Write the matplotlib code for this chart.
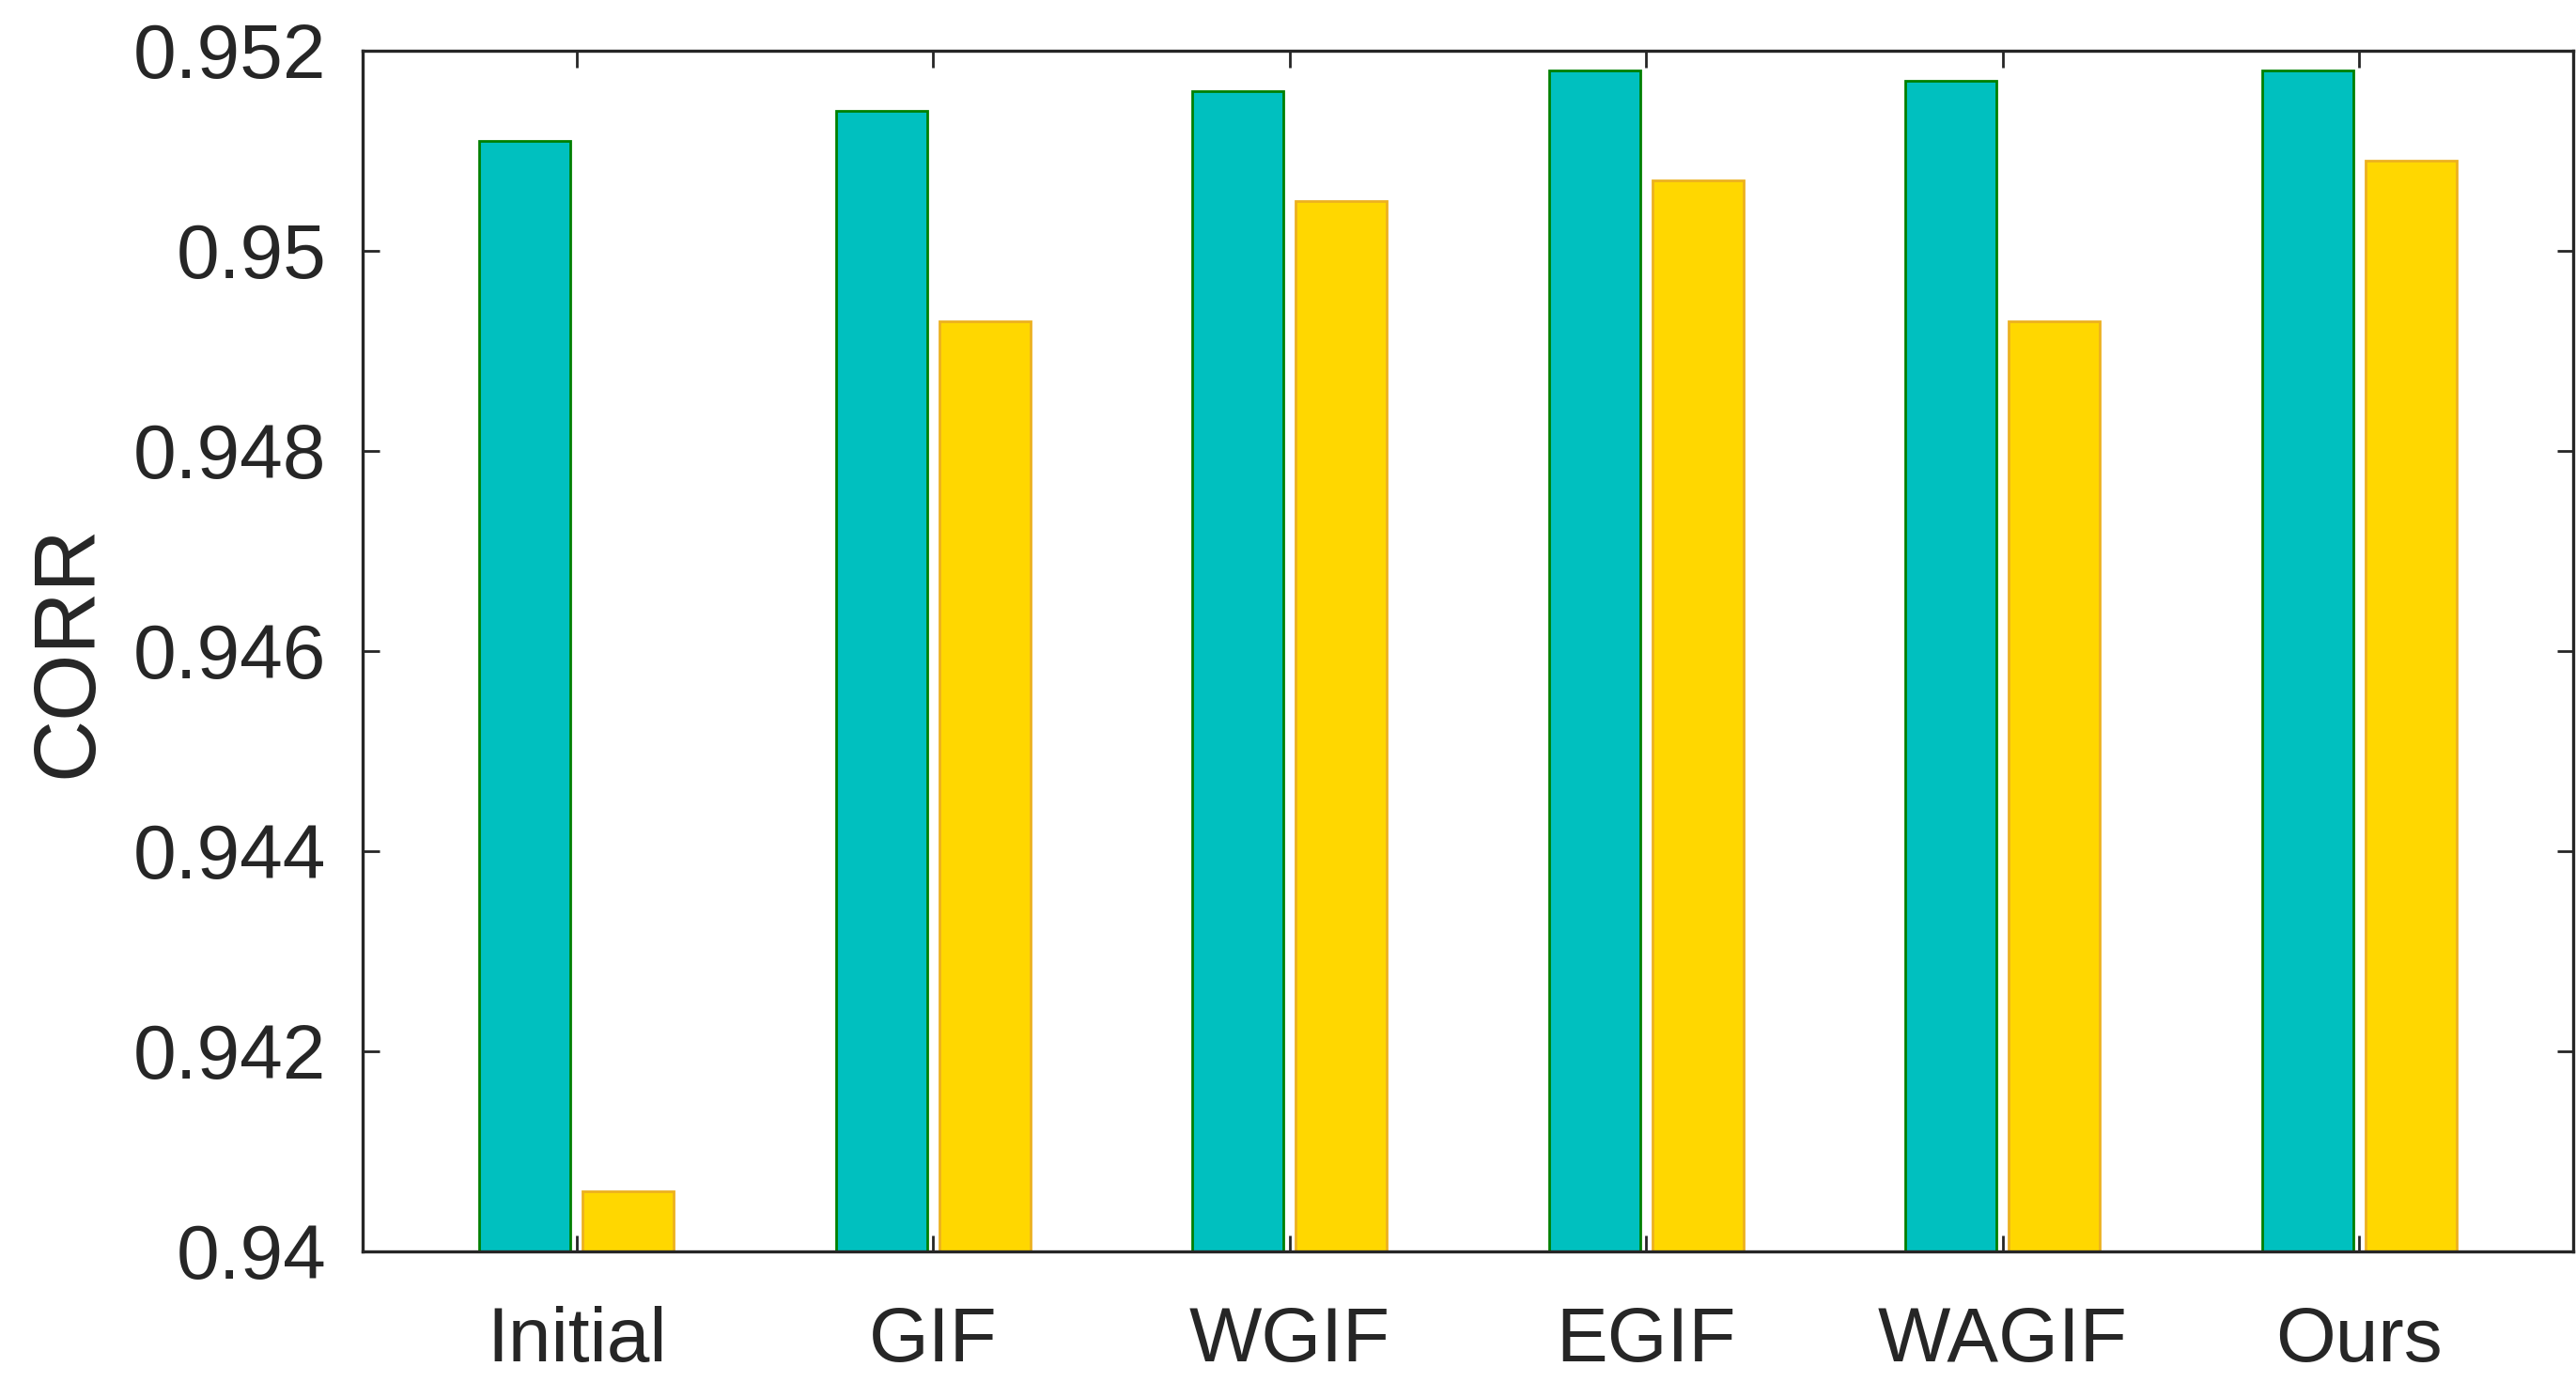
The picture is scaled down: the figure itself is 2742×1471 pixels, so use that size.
import matplotlib
matplotlib.use("Agg")
import matplotlib.pyplot as plt
import numpy as np

categories = ["Initial", "GIF", "WGIF", "EGIF", "WAGIF", "Ours"]
series_a = [0.9511, 0.9514, 0.9516, 0.9518, 0.9517, 0.9518]
series_b = [0.9406, 0.9493, 0.9505, 0.9507, 0.9493, 0.9509]
yticks = [0.94, 0.942, 0.944, 0.946, 0.948, 0.95, 0.952]
ytick_labels = ["0.94", "0.942", "0.944", "0.946", "0.948", "0.95", "0.952"]

plt.rcParams['font.family'] = ['Liberation Sans', 'DejaVu Sans']
txt = '#262626'

fig = plt.figure(figsize=(13.71, 7.355), dpi=200)
ax = fig.add_axes([0.1408, 0.0945, 0.8581, 0.8688])

x = np.arange(1, len(categories) + 1)
w = 0.255
off = 0.145
ax.bar(x - off, series_a, width=w, bottom=0, color='#00C0BF', edgecolor='#008000', linewidth=1.0, zorder=2)
ax.bar(x + off, series_b, width=w, bottom=0, color='#FFD700', edgecolor='#EDB120', linewidth=1.0, zorder=2)

ax.set_xlim(0.4, 6.6)
ax.set_ylim(0.94, 0.952)
ax.set_xticks(x)
ax.set_xticklabels(categories)
ax.set_yticks(yticks)
ax.set_yticklabels(ytick_labels)

for s in ax.spines.values():
    s.set_linewidth(1.2)
    s.set_color(txt)
    s.set_zorder(3)

ax.tick_params(axis='both', which='both', direction='in', length=6.3, width=1.0,
               color=txt, labelcolor=txt, labelsize=29.5, top=True, right=True)
ax.tick_params(axis='y', pad=14)
ax.tick_params(axis='x', pad=21)

ax.set_ylabel("CORR", fontsize=33, color=txt, labelpad=9)

fig.savefig("out.png", dpi=200, facecolor='white')
